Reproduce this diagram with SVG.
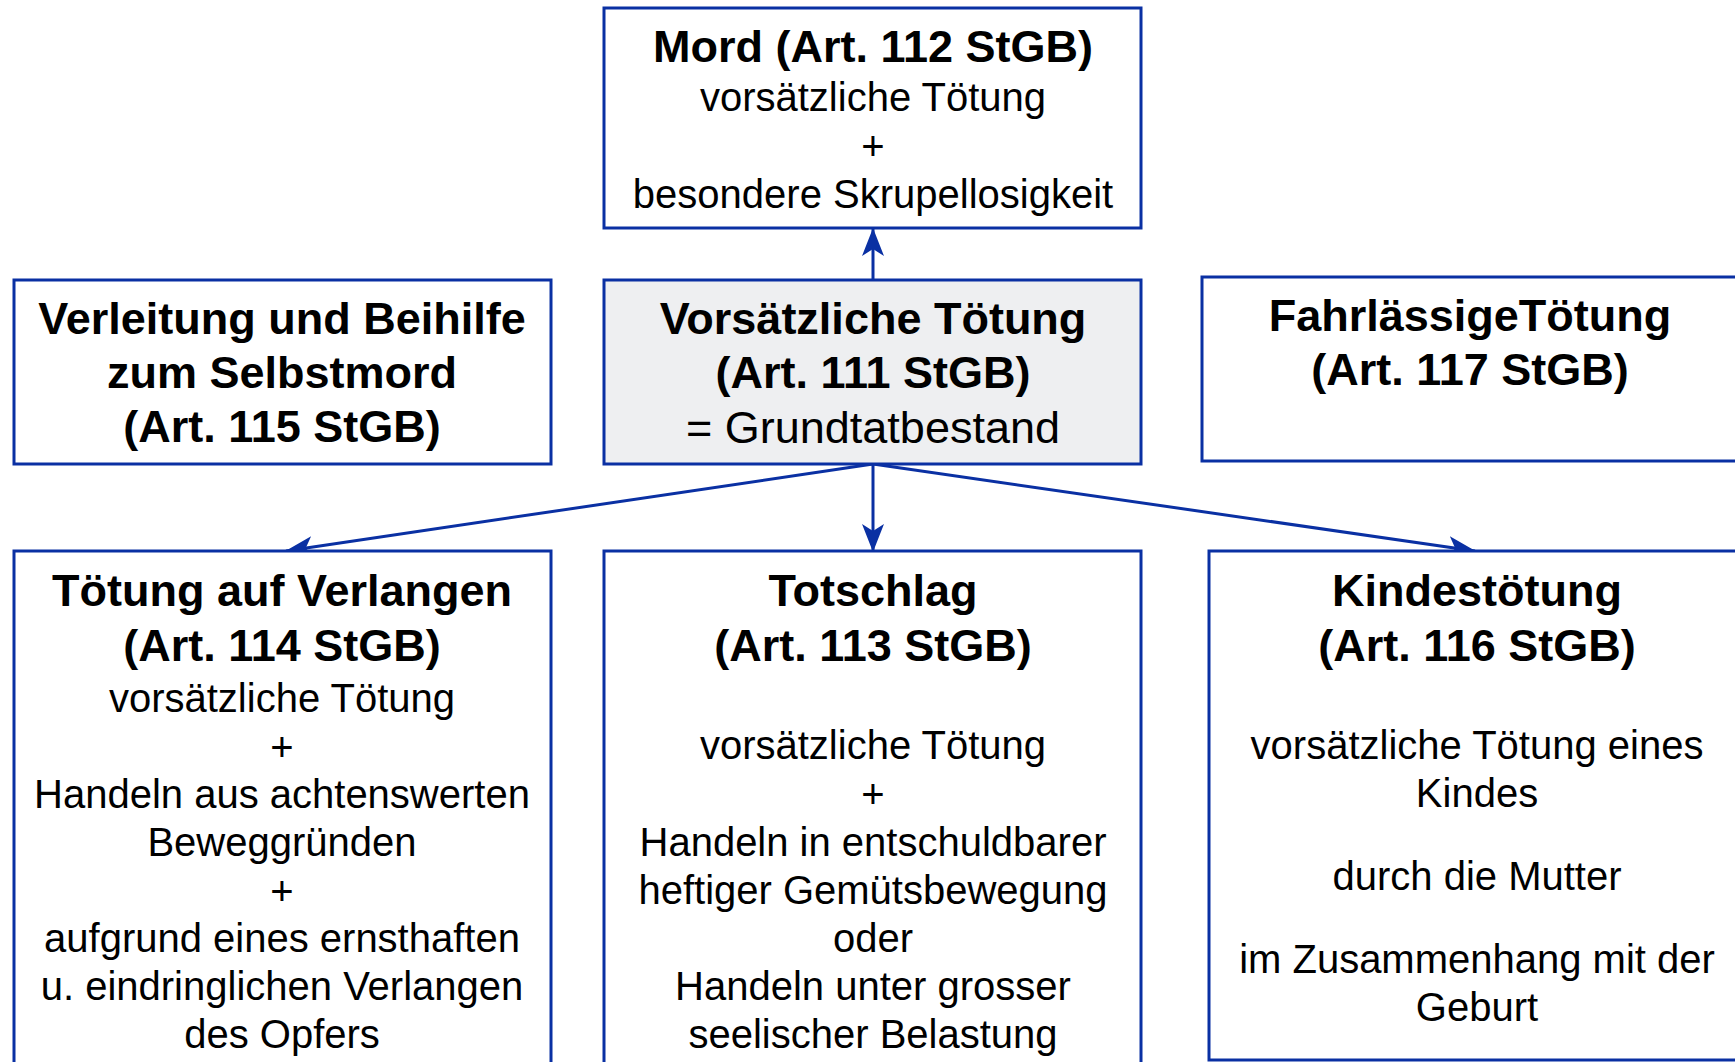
<svg xmlns="http://www.w3.org/2000/svg" width="1735" height="1062" viewBox="0 0 1735 1062">
<style>
.box{fill:#ffffff;stroke:#0a30a3;stroke-width:3}
.grey{fill:#eeeff1}
.b{font-family:"Liberation Sans",Arial,sans-serif;font-weight:bold;font-size:45px;fill:#000;text-anchor:middle}
.n{font-family:"Liberation Sans",Arial,sans-serif;font-size:40px;fill:#000;text-anchor:middle}
.n45{font-family:"Liberation Sans",Arial,sans-serif;font-size:45px;fill:#000;text-anchor:middle}
.con{stroke:#0a30a3;stroke-width:3;fill:none;marker-end:url(#ah)}
</style>
<defs>
<marker id="ah" markerUnits="userSpaceOnUse" markerWidth="28" markerHeight="22" viewBox="0 0 28 22" refX="27" refY="11" orient="auto">
<path d="M0,0 L28,11 L0,22 L7,11 z" fill="#0a30a3"/>
</marker>
</defs>
<rect width="1735" height="1062" fill="#ffffff"/>
<g id="connectors">
<line class="con" x1="873" y1="280" x2="873" y2="229"/>
<line class="con" x1="873" y1="464" x2="286" y2="551"/>
<line class="con" x1="873" y1="464" x2="873" y2="551"/>
<line class="con" x1="873" y1="464" x2="1475" y2="551"/>
</g>
<g id="mord">
<rect class="box" x="604" y="8" width="537" height="220"/>
<text class="b" x="873" y="62">Mord (Art. 112 StGB)</text>
<text class="n" x="873" y="111">vorsätzliche Tötung</text>
<text class="n" x="873" y="160">+</text>
<text class="n" x="873" y="208">besondere Skrupellosigkeit</text>
</g>
<g id="verleitung">
<rect class="box" x="14" y="280" width="537" height="184"/>
<text class="b" x="282" y="334">Verleitung und Beihilfe</text>
<text class="b" x="282" y="388">zum Selbstmord</text>
<text class="b" x="282" y="442">(Art. 115 StGB)</text>
</g>
<g id="vorsaetzlich">
<rect class="box grey" x="604" y="280" width="537" height="184"/>
<text class="b" x="873" y="334">Vorsätzliche Tötung</text>
<text class="b" x="873" y="388">(Art. 111 StGB)</text>
<text class="n45" x="873" y="443">= Grundtatbestand</text>
</g>
<g id="fahrlaessig">
<rect class="box" x="1202" y="277" width="540" height="184"/>
<text class="b" x="1470" y="331">FahrlässigeTötung</text>
<text class="b" x="1470" y="385">(Art. 117 StGB)</text>
</g>
<g id="verlangen">
<rect class="box" x="14" y="551" width="537" height="520"/>
<text class="b" x="282" y="606">Tötung auf Verlangen</text>
<text class="b" x="282" y="661">(Art. 114 StGB)</text>
<text class="n" x="282" y="712">vorsätzliche Tötung</text>
<text class="n" x="282" y="761">+</text>
<text class="n" x="282" y="808">Handeln aus achtenswerten</text>
<text class="n" x="282" y="856">Beweggründen</text>
<text class="n" x="282" y="905">+</text>
<text class="n" x="282" y="952">aufgrund eines ernsthaften</text>
<text class="n" x="282" y="1000">u. eindringlichen Verlangen</text>
<text class="n" x="282" y="1048">des Opfers</text>
</g>
<g id="totschlag">
<rect class="box" x="604" y="551" width="537" height="520"/>
<text class="b" x="873" y="606">Totschlag</text>
<text class="b" x="873" y="661">(Art. 113 StGB)</text>
<text class="n" x="873" y="759">vorsätzliche Tötung</text>
<text class="n" x="873" y="808">+</text>
<text class="n" x="873" y="856">Handeln in entschuldbarer</text>
<text class="n" x="873" y="904">heftiger Gemütsbewegung</text>
<text class="n" x="873" y="952">oder</text>
<text class="n" x="873" y="1000">Handeln unter grosser</text>
<text class="n" x="873" y="1048">seelischer Belastung</text>
</g>
<g id="kindestoetung">
<rect class="box" x="1209" y="551" width="540" height="509"/>
<text class="b" x="1477" y="606">Kindestötung</text>
<text class="b" x="1477" y="661">(Art. 116 StGB)</text>
<text class="n" x="1477" y="759">vorsätzliche Tötung eines</text>
<text class="n" x="1477" y="807">Kindes</text>
<text class="n" x="1477" y="890">durch die Mutter</text>
<text class="n" x="1477" y="973">im Zusammenhang mit der</text>
<text class="n" x="1477" y="1021">Geburt</text>
</g>
</svg>
